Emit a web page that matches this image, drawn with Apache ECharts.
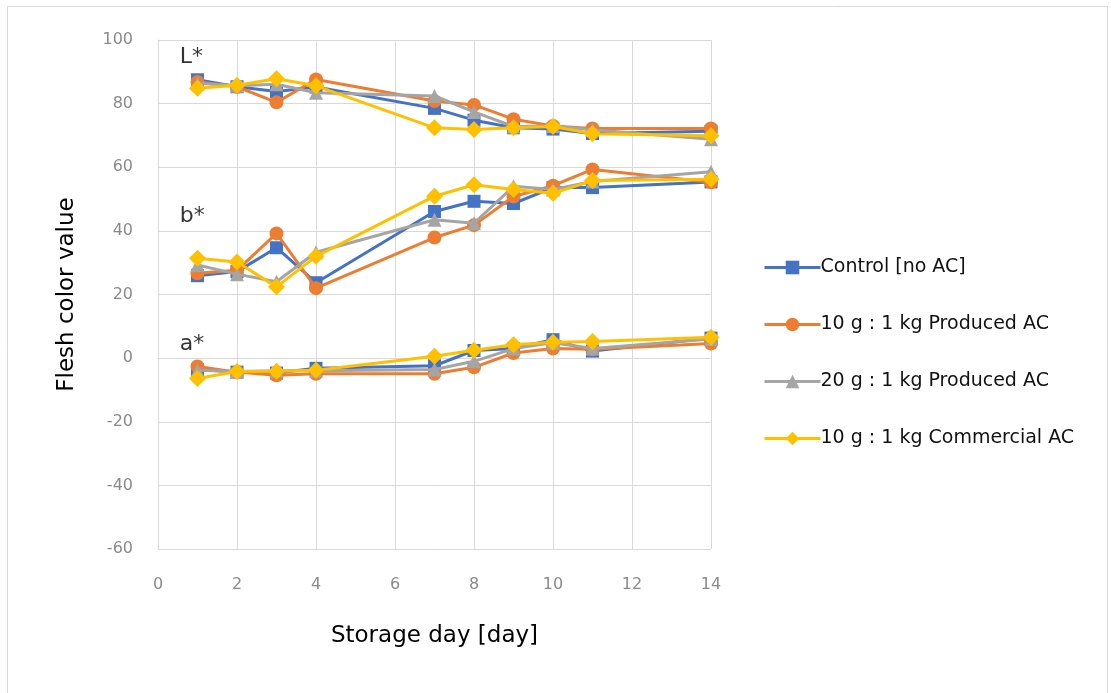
<!DOCTYPE html>
<html>
<head>
<meta charset="utf-8">
<script src="https://cdn.jsdelivr.net/npm/echarts@6/dist/echarts.min.js"></script>
<style>
  html, body { margin: 0; padding: 0; background: #ffffff; }
  #chart { width: 1111px; height: 693px; }
</style>
</head>
<body>
<div id="chart"></div>
<script>
// Storage days sampled
const days = [1, 2, 3, 4, 7, 8, 9, 10, 11, 14];

// Treatments (legend order)
const treatments = [
  'Control [no AC]',
  '10 g : 1 kg Produced AC',
  '20 g : 1 kg Produced AC',
  '10 g : 1 kg Commercial AC'
];

// L* (lightness)
const lControl    = [87.5, 85.3, 83.8, 85.2, 78.5, 74.8, 72.4, 72.0, 70.6, 71.3];
const lProduced10 = [86.8, 85.3, 80.4, 87.6, 80.8, 79.6, 75.1, 73.0, 72.2, 72.2];
const lProduced20 = [86.4, 85.6, 86.1, 83.4, 82.4, 77.4, 72.8, 73.0, 71.8, 68.8];
const lCommercial = [84.8, 85.8, 87.8, 85.6, 72.4, 71.9, 72.4, 72.8, 70.5, 69.9];

// b* (yellowness)
const bControl    = [25.9, 27.2, 34.7, 23.7, 46.1, 49.3, 48.6, 53.6, 53.6, 55.4];
const bProduced10 = [26.7, 27.6, 39.2, 22.0, 37.9, 41.8, 50.8, 54.2, 59.3, 55.3];
const bProduced20 = [29.3, 26.4, 24.0, 33.3, 43.5, 42.4, 54.0, 53.0, 55.5, 58.6];
const bCommercial = [31.4, 30.2, 22.4, 32.0, 50.9, 54.5, 53.0, 51.8, 55.8, 56.2];

// a* (redness)
const aControl    = [-3.6, -4.4, -4.7, -3.2, -2.4, 2.4, 3.0, 5.8, 2.2, 6.3];
const aProduced10 = [-2.6, -4.4, -5.4, -4.9, -4.9, -2.9, 1.6, 3.0, 2.8, 4.6];
const aProduced20 = [-3.8, -4.2, -4.0, -4.0, -3.6, -1.0, 3.0, 4.8, 3.0, 6.0];
const aCommercial = [-6.4, -4.2, -4.1, -3.8, 0.6, 2.5, 4.2, 5.0, 5.2, 6.6];

// Parameter labels and where they sit (day, value)
const paramNames = ['L*', 'b*', 'a*'];
const paramLabelPos = [[0.55, 94.5], [0.55, 44.5], [0.55, 4.5]];

const colors  = ['#4472C4', '#ED7D31', '#A5A5A5', '#FFC000'];
const symbols = ['rect', 'circle', 'triangle', 'diamond'];
const sizes   = [13, 14, 14, 17];

const valueSets = [
  [lControl, bControl, aControl],
  [lProduced10, bProduced10, aProduced10],
  [lProduced20, bProduced20, aProduced20],
  [lCommercial, bCommercial, aCommercial]
];

const textFont = '"DejaVu Sans", "Noto Sans", sans-serif';

const series = [];
treatments.forEach((name, t) => {
  valueSets[t].forEach(values => {
    series.push({
      name: name,
      type: 'line',
      data: days.map((d, i) => [d, values[i]]),
      symbol: symbols[t],
      symbolSize: sizes[t],
      color: colors[t],
      lineStyle: { width: 3, color: colors[t] },
      itemStyle: { color: colors[t] },
      emphasis: { disabled: true },
      animation: false,
      z: 2 + t
    });
  });
});

// Parameter names drawn as text at axis coordinates
series.push({
  name: 'params',
  type: 'scatter',
  silent: true,
  symbolSize: 0,
  animation: false,
  data: paramLabelPos.map((p, i) => ({ value: p, name: paramNames[i] })),
  label: {
    show: true,
    position: 'right',
    distance: 0,
    formatter: p => p.name,
    fontFamily: textFont,
    fontSize: 22,
    color: '#000000'
  },
  z: 10
});

const chart = echarts.init(document.getElementById('chart'), null, { renderer: 'canvas' });
chart.setOption({
  backgroundColor: '#ffffff',
  animation: false,
  graphic: [{
    type: 'rect',
    shape: { x: 7.5, y: 6.5, width: 1100, height: 700 },
    style: { fill: 'none', stroke: '#d9d9d9', lineWidth: 1 },
    silent: true
  }],
  grid: { left: 158, right: 400, top: 40, bottom: 144, containLabel: false },
  legend: {
    data: treatments,
    orient: 'vertical',
    left: 758,
    top: 253,
    itemWidth: 56,
    itemHeight: 17,
    itemGap: 38,
    lineStyle: { width: 3 },
    textStyle: { fontFamily: textFont, fontSize: 19, color: '#111111', padding: [0, 0, 0, -5] }
  },
  xAxis: {
    type: 'value',
    min: 0,
    max: 14,
    interval: 2,
    name: 'Storage day [day]',
    nameLocation: 'middle',
    nameGap: 76,
    nameTextStyle: { fontFamily: textFont, fontSize: 23, color: '#000000' },
    axisLine: { show: true, lineStyle: { color: '#d9d9d9', width: 1 } },
    axisTick: { show: false },
    axisLabel: { margin: 28, fontFamily: textFont, fontSize: 16, color: '#8a8a8a' },
    splitLine: { show: true, lineStyle: { color: '#d9d9d9', width: 1 } }
  },
  yAxis: {
    type: 'value',
    min: -60,
    max: 100,
    interval: 20,
    name: 'Flesh color value',
    nameLocation: 'middle',
    nameGap: 79,
    nameTextStyle: { fontFamily: textFont, fontSize: 23, color: '#000000' },
    axisLine: { show: true, lineStyle: { color: '#d9d9d9', width: 1 } },
    axisTick: { show: false },
    axisLabel: { margin: 25, fontFamily: textFont, fontSize: 16, color: '#8a8a8a' },
    splitLine: { show: true, lineStyle: { color: '#d9d9d9', width: 1 } }
  },
  series: series
});
</script>
</body>
</html>
